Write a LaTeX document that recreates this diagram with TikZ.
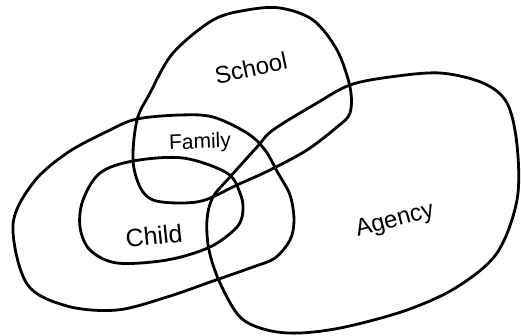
\documentclass[tikz,border=0pt]{standalone}
\usepackage{fontspec}
\setmainfont{Liberation Sans}
\begin{document}
\begin{tikzpicture}[x=1pt,y=-1pt,
  loop/.style={draw=black,line width=2.8pt,line join=round,line cap=round},
  lbl/.style={inner sep=0pt,text=black}]
\useasboundingbox (0,0) rectangle (522,335);
% School
\draw[loop] plot[smooth cycle,tension=0.55] coordinates {
 (137,120) (150,93) (173,53) (213,20) (247,10) (280,8) (313,20) (337,50)
 (350,87) (350,113) (337,127) (307,150) (270,170) (237,185) (205,200)
 (180,203) (153,200) (140,187) (133,160)};
% Agency
\draw[loop] plot[smooth cycle,tension=0.55] coordinates {
 (350,85) (390,77) (440,73) (483,83) (507,103) (517,145) (517,200)
 (497,253) (457,287) (407,310) (345,327) (300,333) (267,330) (240,317)
 (220,283) (209,250) (207,220) (213,197) (230,177) (257,147) (273,130) (317,103)};
% Family
\draw[loop] plot[smooth cycle,tension=0.55] coordinates {
 (13,225) (33,183) (67,153) (110,130) (137,119) (180,115) (213,117)
 (247,133) (265,150) (278,173) (290,195) (294,220) (290,240) (275,258)
 (253,267) (213,281) (167,297) (117,310) (67,306) (27,284)};
% Child
\draw[loop] plot[smooth cycle,tension=0.55] coordinates {
 (133,161) (183,158) (227,173) (240,193) (243,210) (237,227) (210,247)
 (167,260) (117,263) (90,250) (80,227) (83,200) (100,173)};
% labels
\node[lbl,rotate=12,font=\fontsize{24}{26}\selectfont] (school) at (251,68) {School};
\node[lbl,rotate=2,font=\fontsize{21}{23}\selectfont] (family) at (200,143) {Family};
\node[lbl,rotate=6,font=\fontsize{25}{27}\selectfont] (child) at (154,236) {Child};
\node[lbl,rotate=15,font=\fontsize{24}{26}\selectfont] (agency) at (395,221) {Agency};
\end{tikzpicture}
\end{document}
